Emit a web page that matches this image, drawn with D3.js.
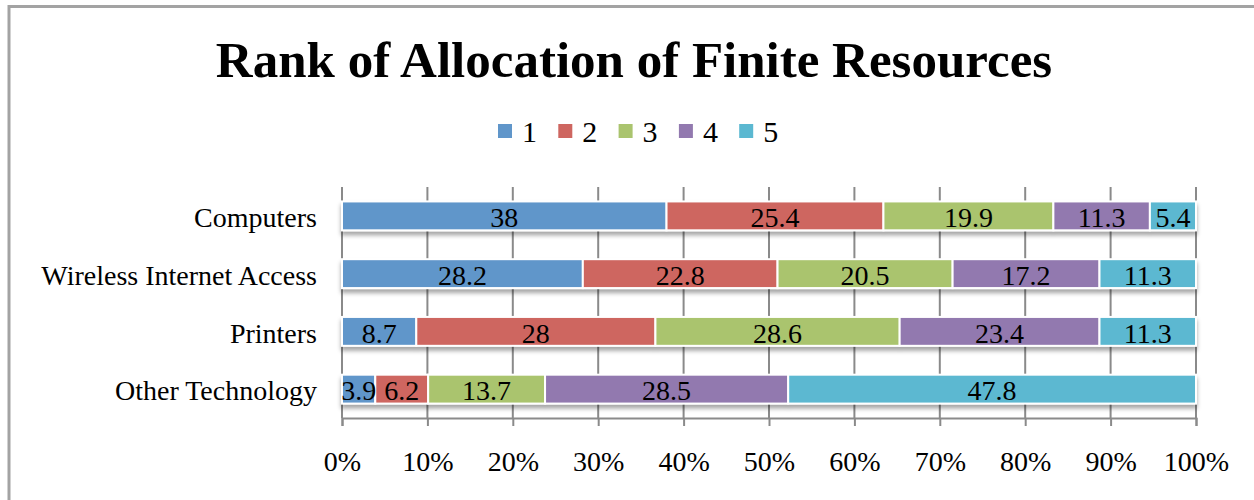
<!DOCTYPE html>
<html>
<head>
<meta charset="utf-8">
<script src="https://cdn.jsdelivr.net/npm/d3@7"></script>
<style>
  html, body { margin: 0; padding: 0; background: #fff; }
  svg { display: block; }
  text { font-family: "Liberation Serif", "Times New Roman", serif; fill: #000; }
</style>
</head>
<body>
<svg id="chart" width="1254" height="500"></svg>
<script>
// Survey: rank given to each resource (percent of respondents per rank)
const categories = ["Computers", "Wireless Internet Access", "Printers", "Other Technology"];
const ranks = ["1", "2", "3", "4", "5"];
const rank1 = [38, 28.2, 8.7, 3.9];
const rank2 = [25.4, 22.8, 28, 6.2];
const rank3 = [19.9, 20.5, 28.6, 13.7];
const rank4 = [11.3, 17.2, 23.4, 28.5];
const rank5 = [5.4, 11.3, 11.3, 47.8];
const tickValues = [0, 0.1, 0.2, 0.3, 0.4, 0.5, 0.6, 0.7, 0.8, 0.9, 1];
const colors = ["#6096ca", "#ce6660", "#aac46e", "#9279af", "#5bb8d1"];

const seriesValues = [rank1, rank2, rank3, rank4, rank5];
const rows = categories.map((c, i) => {
  const r = { category: c };
  ranks.forEach((k, j) => { r[k] = seriesValues[j][i]; });
  return r;
});

const svg = d3.select("#chart");

// chart frame (top and left edges)
svg.append("path")
  .attr("d", "M9,1000 V6.5 H1300")
  .attr("fill", "none")
  .attr("stroke", "#a3a3a3")
  .attr("stroke-width", 3);

// drop shadow under bars
const defs = svg.append("defs");
defs.append("filter").attr("id", "barShadow")
  .attr("x", "-5%").attr("y", "-30%").attr("width", "110%").attr("height", "180%")
  .append("feDropShadow")
  .attr("dx", 0).attr("dy", 4).attr("stdDeviation", 2)
  .attr("flood-color", "#000").attr("flood-opacity", 0.35);

const x = d3.scaleLinear().domain([0, 1]).range([342, 1196]);
const y = d3.scaleBand().domain(categories).range([187, 418])
  .paddingInner(0.5).paddingOuter(0.25);

// title
svg.append("text")
  .attr("x", 634).attr("y", 77)
  .attr("text-anchor", "middle")
  .attr("font-size", 51).attr("font-weight", "bold")
  .text("Rank of Allocation of Finite Resources");

// legend
const legend = svg.append("g");
ranks.forEach((k, i) => {
  const lx = 498 + i * 60.3;
  legend.append("rect")
    .attr("x", lx).attr("y", 124).attr("width", 14).attr("height", 14)
    .attr("fill", colors[i]);
  legend.append("text")
    .attr("x", lx + 24).attr("y", 142)
    .attr("font-size", 30)
    .text(k);
});

// vertical gridlines + bottom axis
const gridColor = "#8a8a8a";
const xAxis = d3.axisBottom(x)
  .tickValues(tickValues)
  .tickSize(8)
  .tickFormat(d3.format(".0%"));
const axisG = svg.append("g")
  .attr("transform", "translate(0,418)")
  .call(xAxis);
axisG.select(".domain").attr("stroke", gridColor).attr("stroke-width", 2);
axisG.selectAll(".tick line").attr("stroke", gridColor).attr("stroke-width", 2);
axisG.selectAll(".tick text")
  .attr("font-family", "Liberation Serif, serif")
  .attr("font-size", 28)
  .attr("dy", null)
  .attr("y", 53);

const grid = svg.append("g");
grid.selectAll("line").data(tickValues).join("line")
  .attr("x1", d => x(d)).attr("x2", d => x(d))
  .attr("y1", 187).attr("y2", 418)
  .attr("stroke", gridColor).attr("stroke-width", 2);

// category labels
svg.append("g").selectAll("text").data(categories).join("text")
  .attr("x", 317)
  .attr("y", d => y(d) + y.bandwidth() / 2)
  .attr("dy", "0.4em")
  .attr("text-anchor", "end")
  .attr("font-size", 28)
  .text(d => d);

// stacked 100% bars
const stack = d3.stack().keys(ranks).offset(d3.stackOffsetExpand);
const layers = stack(rows);

const barRows = svg.append("g").selectAll("g.row").data(categories).join("g")
  .attr("class", "row")
  .attr("filter", "url(#barShadow)");

barRows.each(function(cat, ci) {
  const g = d3.select(this);
  layers.forEach((layer, li) => {
    const seg = layer[ci];
    g.append("rect")
      .attr("x", x(seg[0]))
      .attr("y", y(cat))
      .attr("width", x(seg[1]) - x(seg[0]))
      .attr("height", y.bandwidth())
      .attr("fill", colors[li])
      .attr("stroke", "#fff")
      .attr("stroke-width", 2);
  });
});

// value labels
const labels = svg.append("g");
layers.forEach((layer, li) => {
  layer.forEach((seg, ci) => {
    labels.append("text")
      .attr("x", (x(seg[0]) + x(seg[1])) / 2)
      .attr("y", y(categories[ci]) + y.bandwidth() / 2)
      .attr("dy", "0.4em")
      .attr("text-anchor", "middle")
      .attr("font-size", 28)
      .text(seriesValues[li][ci]);
  });
});
</script>
</body>
</html>
